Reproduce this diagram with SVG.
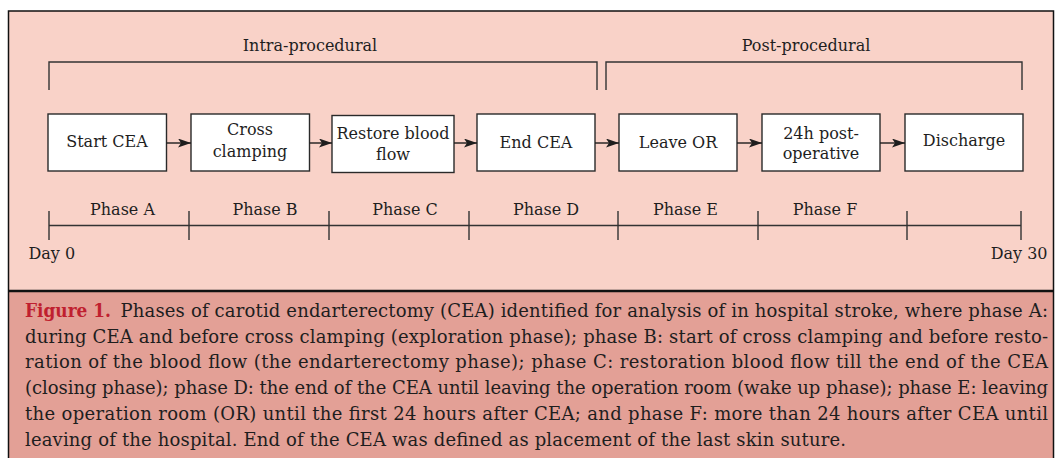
<svg xmlns="http://www.w3.org/2000/svg" width="1057" height="458" viewBox="0 0 1057 458">
<style>
  .t { font-family: "DejaVu Serif", "Liberation Serif", serif; fill: #1e1e1e; }
  .lbl { font-size: 16px; text-anchor: middle; }
  .cap { font-size: 18px; }
  .box { fill: #ffffff; stroke: #2a2a2a; stroke-width: 1.4; }
  .ln { fill: none; stroke: #333333; stroke-width: 1.4; }
  .arr { fill: none; stroke: #1e1e1e; stroke-width: 1.4; marker-end: url(#ah); }
</style>
<defs>
  <marker id="ah" markerUnits="userSpaceOnUse" markerWidth="14" markerHeight="10" refX="13" refY="4.5" orient="auto">
    <path d="M0,0 L13,4.5 L0,9 L3,4.5 z" fill="#1e1e1e"/>
  </marker>
</defs>
<rect x="0" y="0" width="1057" height="458" fill="#ffffff"/>
<g id="panel">
  <rect x="8.5" y="11" width="1045" height="280" fill="#F9D2C8"/>
  <rect x="8.5" y="291" width="1045" height="180" fill="#E3A096"/>
  <rect x="8.5" y="11" width="1045" height="470" fill="none" stroke="#111" stroke-width="1.5"/>
  <line x1="8.5" y1="291" x2="1053.5" y2="291" stroke="#111" stroke-width="2.5"/>
</g>
<g id="brackets">
  <path class="ln" d="M49,90 V62 H597 V90"/>
  <path class="ln" d="M606,90 V62 H1022 V90"/>
  <text class="t lbl" x="310" y="50.5">Intra-procedural</text>
  <text class="t lbl" x="806" y="50.5">Post-procedural</text>
</g>
<g id="n1">
  <rect class="box" x="48" y="114" width="118.5" height="57"/>
  <text class="t lbl" x="107" y="147">Start CEA</text>
</g>
<g id="n2">
  <rect class="box" x="191" y="114" width="118.5" height="57"/>
  <text class="t lbl" x="250" y="135">Cross</text>
  <text class="t lbl" x="250" y="157">clamping</text>
</g>
<g id="n3">
  <rect class="box" x="332" y="115.5" width="122" height="57"/>
  <text class="t lbl" x="393" y="138.5">Restore blood</text>
  <text class="t lbl" x="393" y="160">flow</text>
</g>
<g id="n4">
  <rect class="box" x="477" y="114" width="118" height="57"/>
  <text class="t lbl" x="536" y="147.5">End CEA</text>
</g>
<g id="n5">
  <rect class="box" x="619" y="114" width="118" height="57"/>
  <text class="t lbl" x="678" y="147.5">Leave OR</text>
</g>
<g id="n6">
  <rect class="box" x="762" y="114" width="118" height="57"/>
  <text class="t lbl" x="821" y="139">24h post-</text>
  <text class="t lbl" x="821" y="159">operative</text>
</g>
<g id="n7">
  <rect class="box" x="905" y="114" width="118" height="57"/>
  <text class="t lbl" x="964" y="146">Discharge</text>
</g>
<g id="connectors">
  <line class="arr" x1="166.5" y1="143" x2="191" y2="143"/>
  <line class="arr" x1="309.5" y1="143" x2="332" y2="143"/>
  <line class="arr" x1="454" y1="143" x2="477" y2="143"/>
  <line class="arr" x1="595" y1="143" x2="619" y2="143"/>
  <line class="arr" x1="737" y1="143" x2="762" y2="143"/>
  <line class="arr" x1="880" y1="143" x2="905" y2="143"/>
</g>
<g id="timeline">
  <line class="ln" x1="49" y1="225.5" x2="1021" y2="225.5"/>
  <path class="ln" d="M49,211 V240 M189,211 V240 M329,211 V240 M469,211 V240 M618,211 V240 M758,211 V240 M907,211 V240 M1021,211 V240"/>
  <text class="t lbl" x="122.5" y="214.5">Phase A</text>
  <text class="t lbl" x="265" y="214.5">Phase B</text>
  <text class="t lbl" x="405" y="214.5">Phase C</text>
  <text class="t lbl" x="546" y="214.5">Phase D</text>
  <text class="t lbl" x="685.5" y="214.5">Phase E</text>
  <text class="t lbl" x="825" y="214.5">Phase F</text>
  <text class="t" x="28.5" y="259" font-size="16">Day 0</text>
  <text class="t" x="1047.5" y="259" font-size="16" text-anchor="end">Day 30</text>
</g>
<g id="caption">
  <text class="t cap" x="25" y="317" font-weight="bold" fill="#C01F2F" style="fill:#C01F2F" textLength="86" lengthAdjust="spacingAndGlyphs">Figure 1.</text>
  <text class="t cap" x="120.5" y="317" textLength="927.5" lengthAdjust="spacing">Phases of carotid endarterectomy (CEA) identified for analysis of in hospital stroke, where phase A:</text>
  <text class="t cap" x="25" y="342.5" textLength="1023" lengthAdjust="spacing">during CEA and before cross clamping (exploration phase); phase B: start of cross clamping and before resto-</text>
  <text class="t cap" x="25" y="368" textLength="1023" lengthAdjust="spacing">ration of the blood flow (the endarterectomy phase); phase C: restoration blood flow till the end of the CEA</text>
  <text class="t cap" x="25" y="394" textLength="1023" lengthAdjust="spacing">(closing phase); phase D: the end of the CEA until leaving the operation room (wake up phase); phase E: leaving</text>
  <text class="t cap" x="25" y="420" textLength="1023" lengthAdjust="spacing">the operation room (OR) until the first 24 hours after CEA; and phase F: more than 24 hours after CEA until</text>
  <text class="t cap" x="25" y="445.5" textLength="821" lengthAdjust="spacing">leaving of the hospital. End of the CEA was defined as placement of the last skin suture.</text>
</g>
</svg>
